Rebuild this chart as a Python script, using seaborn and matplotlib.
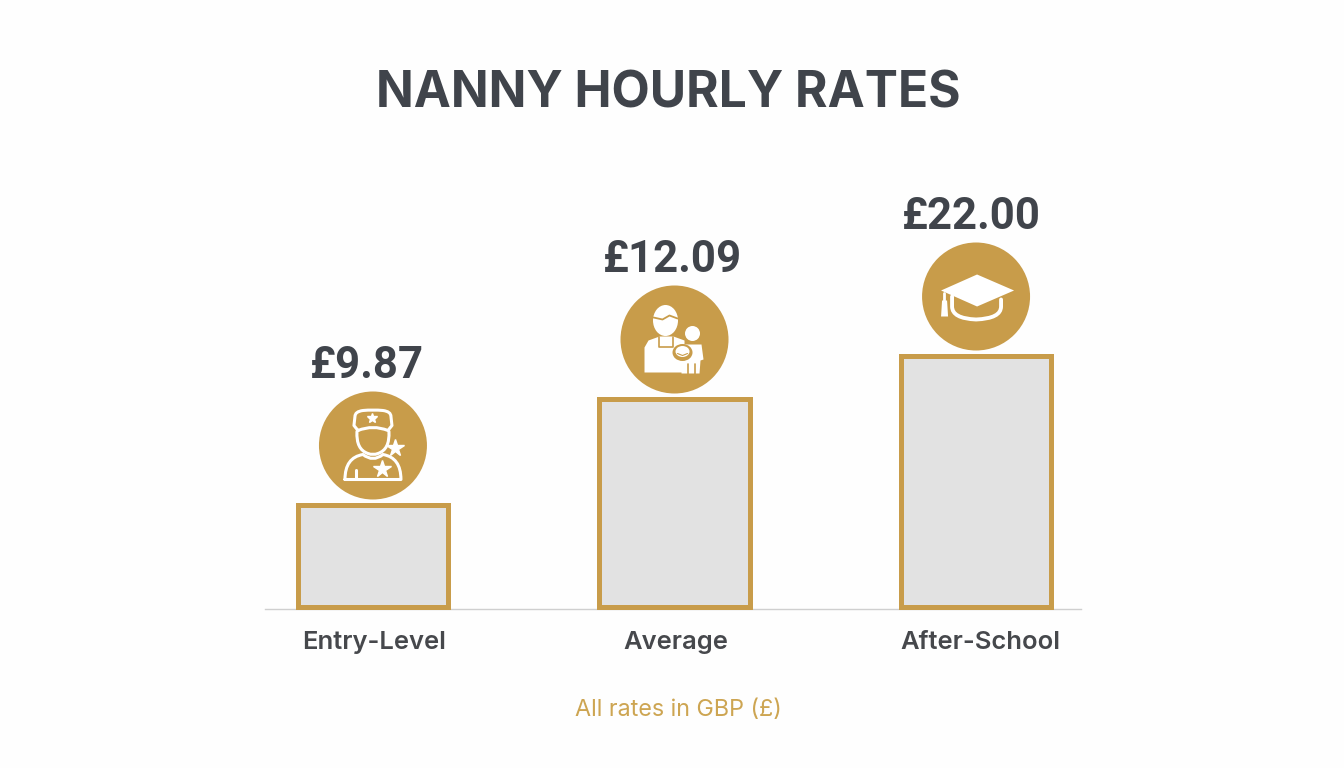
import matplotlib
matplotlib.use("Agg")
import matplotlib.pyplot as plt
import matplotlib.patches as mpatches
from matplotlib.path import Path
from matplotlib.transforms import Affine2D
import seaborn as sns

categories = ["Entry-Level", "Average", "After-School"]
rate_labels = ["£9.87", "£12.09", "£22.00"]
# drawn heights, they are not in proportion to the rates
bar_heights = [102, 208, 251]

GOLD = "#c89c4a"
GREY = "#e2e2e2"
DARK = "#40444b"
WHITE = "#ffffff"

sns.set_theme(style="white")
plt.rcParams["font.family"] = ["Inter", "DejaVu Sans"]

fig = plt.figure(figsize=(13.44, 7.68), dpi=100, facecolor="#fefefe")
ax = fig.add_axes([265 / 1344, (768 - 609) / 768, 816 / 1344, 609 / 768])
ax.set_facecolor("none")

sns.barplot(x=categories, y=bar_heights, width=0.5, color=GREY, saturation=1,
            edgecolor=GOLD, linewidth=3.6, ax=ax, zorder=2)
ax.set_xlim(-0.358, 2.348)
ax.set_ylim(-2, 607)
ax.set_yticks([])
ax.set_ylabel("")
for bar in ax.patches:
    bar.set_clip_on(False)
    bar.set_joinstyle("miter")

sns.despine(ax=ax, left=True)
ax.spines["bottom"].set_color("#cfcfcf")
ax.spines["bottom"].set_linewidth(1)
ax.spines["bottom"].set_zorder(1)
ax.tick_params(axis="x", length=0, pad=16)
tick_dx = [1.5, 1, 4]
for tick, dx in zip(ax.get_xticklabels(), tick_dx):
    tick.set_fontsize(18.4)
    tick.set_fontweight("semibold")
    tick.set_color("#46484c")
    tick.set_transform(tick.get_transform() + Affine2D().translate(dx, 0))


def add_shape(kind, *args, color=WHITE, fill=True, lw=0, z=5, tr=None, **kw):
    if kind == "poly":
        p = mpatches.Polygon(*args, closed=True, **kw)
    elif kind == "ell":
        p = mpatches.Ellipse(*args, **kw)
    else:
        p = mpatches.PathPatch(Path(*args), **kw)
    p.set(transform=tr, clip_on=False, zorder=z, linewidth=lw, capstyle="round", joinstyle="round")
    p.set_edgecolor(color)
    p.set_facecolor(color if fill else "none")
    ax.add_patch(p)


def stroke(pts, tr, color=WHITE, lw=2.2, z=5):
    ax.plot([p[0] for p in pts], [p[1] for p in pts], color=color, lw=lw, transform=tr,
            zorder=z, clip_on=False, solid_capstyle="round", solid_joinstyle="round")


def star(x, y, size, tr):
    ax.plot([x], [y], marker="*", ms=size, color=WHITE, mec=WHITE, transform=tr, zorder=6, clip_on=False)


C3 = Path.CURVE3
M, L = Path.MOVETO, Path.LINETO


def nanny_icon(tr):
    # cap
    add_shape("path", [(-15, -15), (-19, -20), (-18, -29), (-18, -34), (-10, -35), (0, -36), (10, -35),
                       (18, -34), (18, -29), (19, -20), (15, -15), (0, -21), (-15, -15)],
              [M, L, L, C3, L, C3, L, C3, L, L, L, C3, L][:13], color=WHITE, fill=False, lw=2.2, tr=tr)
    star(-1, -28, 7, tr)
    # face
    add_shape("path", [(-16, -14), (-17, 4), (-5, 8), (0, 10), (5, 8), (17, 4), (16, -14)],
              [M, C3, L, C3, L, C3, L], color=WHITE, fill=False, lw=2.2, tr=tr)
    # body
    add_shape("path", [(-28, 34), (-28, 12), (-10, 9), (0, 17), (10, 9), (28, 12), (28, 34), (-28, 34)],
              [M, C3, L, C3, L, C3, L, L], color=WHITE, fill=False, lw=2.2, tr=tr)
    stroke([(-17, 33), (-17, 24)], tr)
    star(22, 2, 13, tr)
    star(9, 23, 13, tr)


def parent_icon(tr):
    # adult
    add_shape("poly", [(-30, 33), (-30, 8), (-26, 1), (-15, -3), (-1, -3), (10, 1), (10, 33)], tr=tr)
    stroke([(-16, -3), (-16, 7), (-2, 7), (-2, -3)], tr, color=GOLD, lw=1.2, z=6)
    add_shape("ell", (-9, -19), 25, 31, tr=tr)
    stroke([(-21, -22), (-12, -20), (-5, -24), (3, -21)], tr, color=GOLD, lw=1.3, z=7)
    # child
    add_shape("ell", (18, -6), 15, 15, tr=tr)
    add_shape("poly", [(5, 8), (8, 5), (27, 5), (29, 20), (26, 21), (25, 34), (7, 34), (7, 21)], tr=tr, z=6)
    stroke([(13, 24), (13, 34)], tr, color=GOLD, lw=1.2, z=7)
    stroke([(20, 24), (20, 34)], tr, color=GOLD, lw=1.2, z=7)
    # baby
    add_shape("ell", (8, 13), 20, 17, color=GOLD, tr=tr, z=7)
    add_shape("ell", (8, 12), 14, 11, tr=tr, z=8)
    stroke([(3, 14), (8, 16), (13, 14)], tr, color=GOLD, lw=0.8, z=9)


def cap_icon(tr):
    add_shape("path", [(-24, 0), (-24, 10), (-24, 22), (0, 23), (25, 22), (25, 10), (25, 3)],
              [M, L, C3, L, C3, L, L], color=WHITE, fill=False, lw=2.8, tr=tr)
    add_shape("poly", [(1, -22), (38, -6), (1, 10), (-35, -6)], color=WHITE, tr=tr, z=6)
    stroke([(-32, -4), (-32, 6)], tr, lw=2, z=6)
    add_shape("poly", [(-35, 20), (-28, 20), (-29, 4), (-34, 4)], tr=tr, z=6)


icons = [nanny_icon, parent_icon, cap_icon]
label_dx = [-6, -2, -5]

fig.canvas.draw()
for i, h in enumerate(bar_heights):
    px, py = ax.transData.transform((i, h))
    # icon shapes are in pixels around the circle centre, y pointing down
    tr = Affine2D().scale(1, -1).translate(px, py + 59.5)
    add_shape("ell", (0, 0), 108, 108, color=GOLD, tr=tr, z=4)
    icons[i](tr)
    ax.annotate(rate_labels[i], (i, h), xytext=(label_dx[i], 127), textcoords="offset pixels",
                ha="center", va="baseline", fontsize=31.5, fontweight="bold", color=DARK,
                family=["Roboto", "DejaVu Sans"], annotation_clip=False)

fig.text(668.5 / 1344, (768 - 107) / 768, "NANNY HOURLY RATES", ha="center", va="baseline",
         fontsize=35.8, fontweight="bold", color=DARK)
fig.text(678 / 1344, (768 - 716) / 768, "All rates in GBP (£)", ha="center", va="baseline",
         fontsize=16.8, color="#cda552")

fig.savefig("out.png", dpi=100, facecolor=fig.get_facecolor())
